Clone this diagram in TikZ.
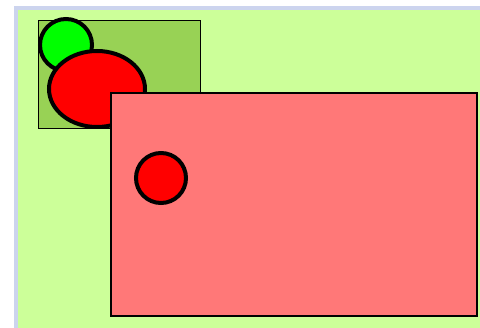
\documentclass[tikz,border=0pt]{standalone}
\usepackage{xcolor}
\usepackage{tikz}
\usetikzlibrary{positioning,shapes.geometric}
\definecolor{paleback}{HTML}{CCFF99}
\definecolor{frameline}{HTML}{CCD4EE}
\definecolor{olivebox}{HTML}{98D255}
\definecolor{salmon}{HTML}{FF7878}

\begin{document}
\begin{tikzpicture}[x=1pt,y=-1pt,inner sep=0pt]
    \tikzstyle{thinbox}=[draw=black,line width=1.2pt,rectangle,anchor=north west]
    \tikzstyle{blob}=[draw=black,line width=4pt]
    \useasboundingbox (0,0) rectangle (480,328);
    % page background with its frame
    \node[rectangle,fill=paleback,draw=frameline,line width=4pt,anchor=north west,
      minimum width=480pt,minimum height=330pt] (page) at (14,6) {};
    \node[thinbox,fill=olivebox,minimum width=162pt,minimum height=108pt] (back) at (38,20) {};
    \node[blob,circle,fill=green,minimum size=52pt] (top) at (66,45) {};
    \node[blob,ellipse,fill=red,minimum width=96pt,minimum height=76pt] (big) at (97,89) {};
    \node[thinbox,fill=salmon,line width=2pt,minimum width=366pt,minimum height=223pt] (front) at (110,92) {};
    \node[blob,circle,fill=red,minimum size=50pt] (small) at (161,178) {};
\end{tikzpicture}
\end{document}
